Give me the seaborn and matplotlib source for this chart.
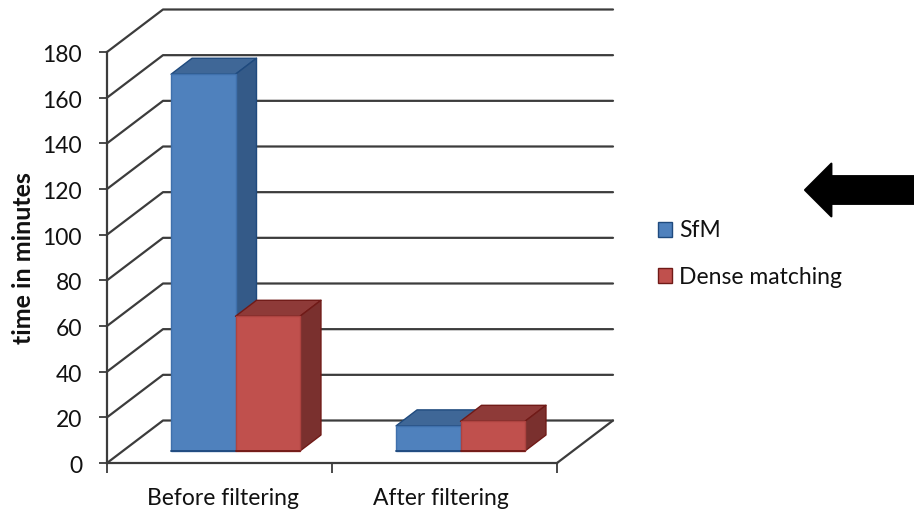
import matplotlib
matplotlib.use("Agg")
import matplotlib.pyplot as plt
import pandas as pd
import seaborn as sns
from matplotlib.patches import Polygon
from matplotlib.transforms import ScaledTranslation

categories = ["Before filtering", "After filtering"]
sfm_minutes = [165, 11]
dense_minutes = [59, 13]
series_names = ["SfM", "Dense matching"]
y_ticks = list(range(0, 181, 20))

FRONT = {"SfM": "#4F81BD", "Dense matching": "#C0504D"}
FRONT_EDGE = {"SfM": "#3F70AC", "Dense matching": "#AD4340"}
TOP = {"SfM": "#3F6797", "Dense matching": "#8E3A38"}
SIDE = {"SfM": "#345A88", "Dense matching": "#7A302E"}
EDGE = {"SfM": "#1F4A7E", "Dense matching": "#701A17"}
GRID = "#3C3C3C"
TEXT = "#111111"

sns.set_theme(style="white")
plt.rcParams["font.family"] = ["Lato", "DejaVu Sans"]

W, H = 914, 512
fig = plt.figure(figsize=(W / 100, H / 100), dpi=100)
ax = fig.add_axes([107 / W, (H - 463) / H, 450 / W, 411 / H])

table = pd.DataFrame({
    "category": categories * 2,
    "series": [series_names[0]] * 2 + [series_names[1]] * 2,
    "minutes": sfm_minutes + dense_minutes,
})
sns.barplot(data=table, x="category", y="minutes", hue="series", order=categories,
            hue_order=series_names, palette=FRONT, width=0.573, gap=0, dodge=True,
            saturation=1, ax=ax, legend=False)
ax.set_xlim(-0.5, 1.5)
ax.set_ylim(0, 180)

# Pixel scale of the axes, used to express the oblique depth in data units.
ux = 450 / 2
uy = 411 / 180
wall_dx, wall_dy = 56 / ux, 42.5 / uy
bar_x0, bar_y0 = 16 / ux, 12 / uy
bar_dx, bar_dy = 21 / ux, 16 / uy

# Back wall, floor and oblique gridlines.
line_kw = dict(color=GRID, lw=1.6, clip_on=False, zorder=1, solid_capstyle="round")
for v in y_ticks:
    ax.plot([-0.5, -0.5 + wall_dx, 1.5 + wall_dx], [v, v + wall_dy, v + wall_dy], **line_kw)
ax.plot([1.5, 1.5 + wall_dx], [0, wall_dy], **line_kw)

# Extrude every bar along the depth direction.
for i, patch in enumerate(ax.patches):
    name = series_names[i // 2]
    x, w, h = patch.get_x(), patch.get_width(), patch.get_height()
    patch.set_x(x + bar_x0)
    patch.set_y(bar_y0)
    patch.set_edgecolor(FRONT_EDGE[name])
    patch.set_linewidth(1.0)
    patch.set_clip_on(False)
    layer = 3 + 2 * (i // 2)
    patch.set_zorder(layer + 1)
    x0, x1, y0, y1 = x + bar_x0, x + w + bar_x0, bar_y0, bar_y0 + h
    top = [(x0, y1), (x1, y1), (x1 + bar_dx, y1 + bar_dy), (x0 + bar_dx, y1 + bar_dy)]
    side = [(x1, y0), (x1 + bar_dx, y0 + bar_dy), (x1 + bar_dx, y1 + bar_dy), (x1, y1)]
    for pts, col in ((top, TOP[name]), (side, SIDE[name])):
        ax.add_patch(Polygon(pts, closed=True, facecolor=col, edgecolor=EDGE[name],
                             lw=1.0, clip_on=False, zorder=layer, joinstyle="round"))
    ax.plot([x0, x1], [y0, y0], color=EDGE[name], lw=1.3, clip_on=False, zorder=layer + 1.5)

# Axes, ticks and labels.
sns.despine(ax=ax, top=True, right=True)
for side_name in ("left", "bottom"):
    ax.spines[side_name].set_color(GRID)
    ax.spines[side_name].set_linewidth(1.6)
    ax.spines[side_name].set_zorder(2)
ax.set_yticks(y_ticks)
ax.set_xticks([-0.5, 0.5, 1.5], labels=["", "", ""])
ax.set_xticks([0, 1], labels=categories, minor=True)
ax.tick_params(axis="y", which="major", left=True, length=6, width=1.3, color=GRID,
               labelsize=16.5, labelcolor=TEXT, pad=12)
ax.tick_params(axis="x", which="major", bottom=True, length=7, width=1.3, color=GRID)
ax.tick_params(axis="x", which="minor", bottom=False, length=0, labelsize=16.5,
               labelcolor=TEXT, pad=18)

# Nudge the category labels off the exact group centres.
label_shift = [3.5, -3.5]
for lab, shift in zip(ax.get_xticklabels(minor=True), label_shift):
    lab.set_transform(lab.get_transform() + ScaledTranslation(shift / 100, 0, fig.dpi_scale_trans))
for lab in ax.get_yticklabels():
    lab.set_transform(lab.get_transform() + ScaledTranslation(0, -1.5 / 100, fig.dpi_scale_trans))

ax.set_xlabel("")
ax.set_ylabel("time in minutes", fontsize=18, fontweight="bold", color=TEXT)
ax.yaxis.set_label_coords((35 - 107) / 450, (463 - 258) / 411)

handles = [plt.Rectangle((0, 0), 1, 1, facecolor=FRONT[n], edgecolor=EDGE[n], lw=1.0)
           for n in series_names]
fig.legend(handles, series_names, loc="center left", frameon=False,
           bbox_to_anchor=(637 / W, (H - 254) / H), fontsize=16.5, labelcolor=TEXT,
           handlelength=0.62, handleheight=0.62, handletextpad=0.3, labelspacing=1.1)

# Black callout arrow at the right edge.
ax.annotate("", xy=(805, H - 190), xycoords="figure pixels",
            xytext=(916, H - 190), textcoords="figure pixels",
            arrowprops=dict(facecolor="black", edgecolor="black", width=20, headwidth=38,
                            headlength=19, shrink=0, lw=1.5, joinstyle="round"),
            annotation_clip=False)

fig.savefig("out.png", dpi=100, facecolor="white")
